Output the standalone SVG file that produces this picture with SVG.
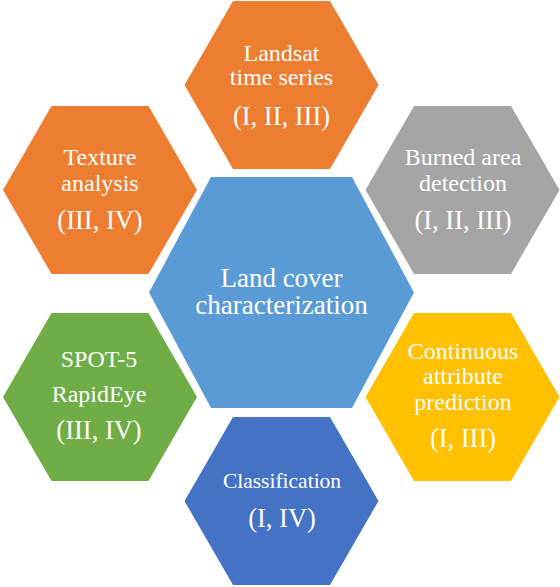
<svg xmlns="http://www.w3.org/2000/svg" width="560" height="587" viewBox="0 0 560 587">
<style>
text{font-family:"Liberation Serif","Times New Roman",serif;fill:#fff;text-anchor:middle}
.t{font-size:24px}
.r{font-size:26.5px}
.c{font-size:27px}
</style>
<rect width="560" height="587" fill="#fff"/>
<g id="connectors"/>
<g id="center">
<polygon points="149,292.5 211,177 352,177 414,292.5 352,408 211,408" fill="#5B9BD5"/>
<text class="c" x="281.5" y="287">Land cover</text>
<text class="c" x="281.5" y="314">characterization</text>
</g>
<g id="landsat">
<polygon points="184.5,85 233,1 330,1 378.5,85 330,169 233,169" fill="#ED7D31"/>
<text class="t" x="281.5" y="61">Landsat</text>
<text class="t" x="281.5" y="85">time series</text>
<text class="r" x="281.5" y="125">(I, II, III)</text>
</g>
<g id="texture">
<polygon points="3,190 51.5,106 148.5,106 197,190 148.5,274 51.5,274" fill="#ED7D31"/>
<text class="t" x="100" y="165">Texture</text>
<text class="t" x="100" y="191">analysis</text>
<text class="r" x="100" y="229">(III, IV)</text>
</g>
<g id="burned">
<polygon points="365.5,190 414,106 511,106 559.5,190 511,274 414,274" fill="#A5A5A5"/>
<text class="t" x="463" y="165">Burned area</text>
<text class="t" x="463" y="191">detection</text>
<text class="r" x="463" y="229">(I, II, III)</text>
</g>
<g id="spot">
<polygon points="3,397 51.5,313 148.5,313 197,397 148.5,481 51.5,481" fill="#70AD47"/>
<text class="t" x="99" y="367">SPOT-5</text>
<text class="t" x="99" y="402">RapidEye</text>
<text class="r" x="99" y="439">(III, IV)</text>
</g>
<g id="continuous">
<polygon points="365.5,397 414,313 511,313 559.5,397 511,481 414,481" fill="#FFC000"/>
<text class="t" x="463" y="359">Continuous</text>
<text class="t" x="463" y="384">attribute</text>
<text class="t" x="463" y="410">prediction</text>
<text class="r" x="463" y="447">(I, III)</text>
</g>
<g id="classification">
<polygon points="184.5,501 233,417 330,417 378.5,501 330,585 233,585" fill="#4472C4"/>
<text x="282" y="488" style="font-size:21.5px">Classification</text>
<text class="r" x="282" y="527">(I, IV)</text>
</g>
</svg>
